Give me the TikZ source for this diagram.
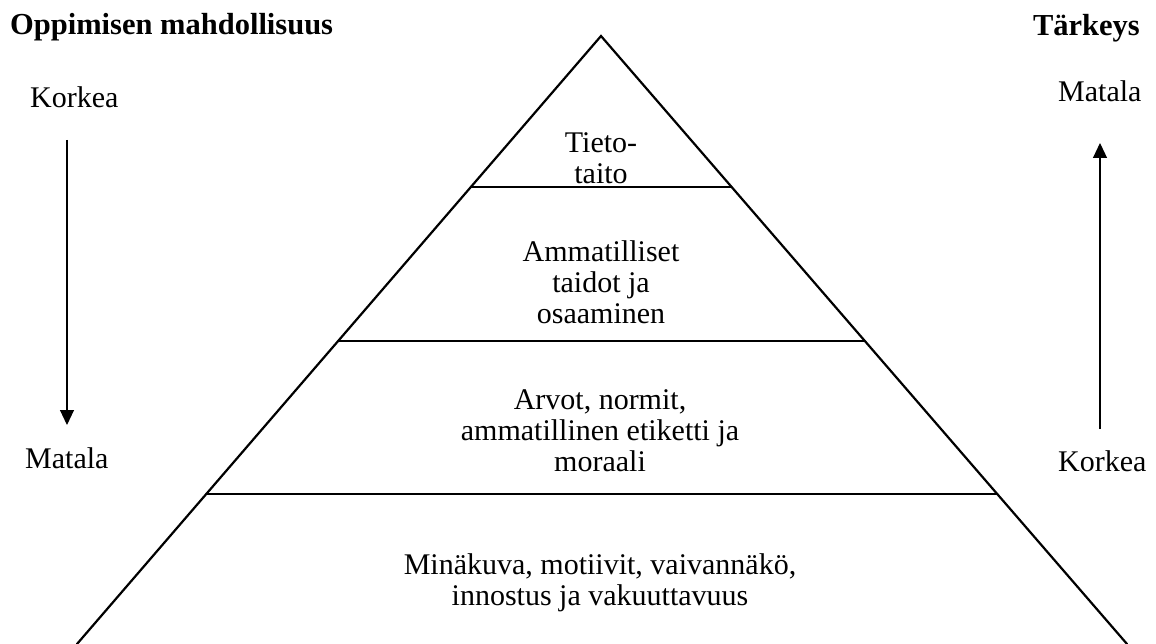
\documentclass[tikz,border=0pt]{standalone}
\usepackage{fontspec}
\setmainfont{Liberation Serif}
\usetikzlibrary{calc,arrows.meta}
\tikzset{
  txt/.style={font=\fontsize{30}{31}\selectfont, inner sep=0pt, align=center, anchor=base},
  hdr/.style={font=\fontsize{30.5}{31}\selectfont\bfseries, inner sep=0pt, anchor=base west},
  side/.style={font=\fontsize{30}{31}\selectfont, inner sep=0pt, anchor=base west},
  pyr/.style={line width=2.2pt, line cap=round, line join=miter},
  arr/.style={line width=1.1pt, -{Triangle[length=15pt,width=14pt]}}
}
\begin{document}
\begin{tikzpicture}[x=1pt,y=-1pt]
\useasboundingbox (0,0) rectangle (1156,644);
\begin{scope}
\clip (0,0) rectangle (1156,644);
% pyramid
\coordinate (A) at (601,36);
\coordinate (BL) at (77,644);
\coordinate (BR) at (1127,644);
\draw[pyr] (BL) -- (A) -- (BR);
\coordinate (L1) at ($(A)!0.2484!(BL)$);
\coordinate (R1) at ($(A)!0.2484!(BR)$);
\coordinate (L2) at ($(A)!0.5016!(BL)$);
\coordinate (R2) at ($(A)!0.5016!(BR)$);
\coordinate (L3) at ($(A)!0.7533!(BL)$);
\coordinate (R3) at ($(A)!0.7533!(BR)$);
\draw[pyr] (L1) -- (R1);
\draw[pyr] (L2) -- (R2);
\draw[pyr] (L3) -- (R3);
\end{scope}
% level labels (anchored at the baseline of the last line)
\node[txt] (t1) at (601,184) {Tieto-\\taito};
\node[txt] (t2) at (601,323) {Ammatilliset\\taidot ja\\osaaminen};
\node[txt] (t3) at (600,471) {Arvot, normit,\\ammatillinen etiketti ja\\moraali};
\node[txt] (t4) at (600,605) {Minäkuva, motiivit, vaivannäkö,\\innostus ja vakuuttavuus};
% left side
\node[hdr] (h1) at (10,35) {Oppimisen mahdollisuus};
\node[side] (k1) at (30,108) {Korkea};
\node[side] (m1) at (25,468) {Matala};
\coordinate (a1s) at (67,140);
\coordinate (a1e) at (67,425);
\draw[arr] (a1s) -- (a1e);
% right side
\node[hdr, anchor=base east] (h2) at (1140,36) {Tärkeys};
\node[side] (m2) at (1058,102) {Matala};
\node[side] (k2) at (1058,471) {Korkea};
\coordinate (a2s) at (1100,429);
\coordinate (a2e) at (1100,143);
\draw[arr] (a2s) -- (a2e);
\end{tikzpicture}
\end{document}
